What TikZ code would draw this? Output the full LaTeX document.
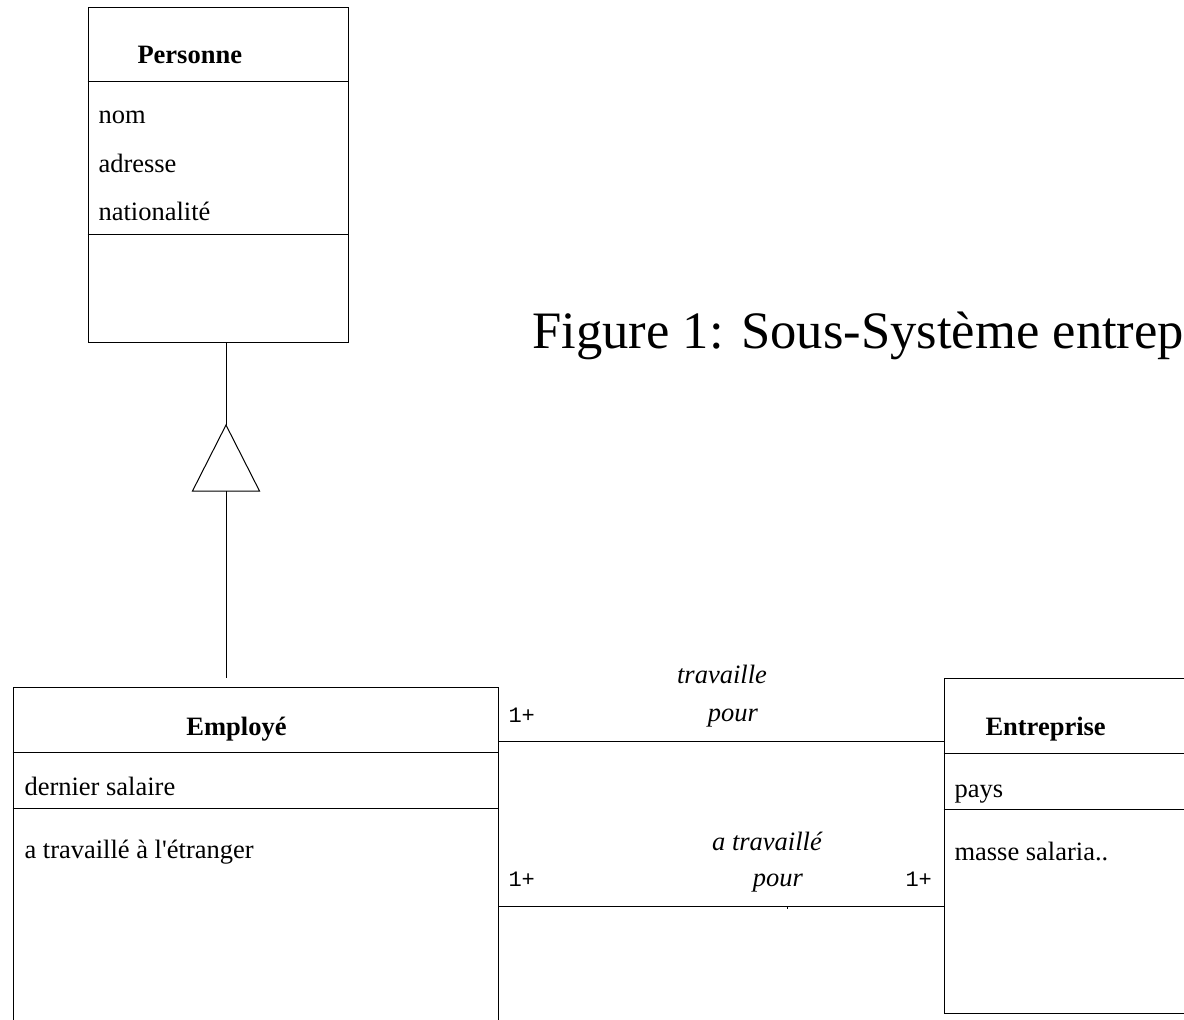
\documentclass[tikz,border=0pt]{standalone}
\usepackage{fontspec}
\setmainfont{Liberation Serif}[Ligatures=TeXOff]
\setmonofont{Liberation Mono}
\begin{document}
\begin{tikzpicture}[x=1pt,y=-1pt,
  line width=1pt,
  classbox/.style={draw, rectangle, inner sep=0pt, minimum width=#1},
  attr/.style={anchor=base west, inner sep=0pt, font=\fontsize{26.5}{30}\selectfont},
  cname/.style={anchor=base west, inner sep=0pt, font=\fontsize{26.5}{30}\selectfont\bfseries},
  role/.style={anchor=base, inner sep=0pt, font=\fontsize{26.5}{30}\selectfont\itshape},
  mult/.style={anchor=base west, inner sep=0pt, font=\fontsize{22}{24}\selectfont\ttfamily},
  title/.style={anchor=base west, inner sep=0pt, font=\fontsize{52.6}{60}\selectfont}]
\useasboundingbox (0,0) rectangle (1184,1020);
\clip (0,0) rectangle (1184,1020);

% class Personne
\node[classbox=260pt, minimum height=335pt] (pers) at (218,174.5) {};
\draw (pers.west |- 0,81) -- (pers.east |- 0,81);
\draw (pers.west |- 0,234) -- (pers.east |- 0,234);
\node[cname] (persn) at (137,63) {Personne};
\node[attr] (pa1) at (98,123) {nom};
\node[attr] (pa2) at (98,172) {adresse};
\node[attr] (pa3) at (98,220) {nationalité};

% class Employé
\node[classbox=485pt, minimum height=360pt] (emp) at (255.5,867) {};
\draw (emp.west |- 0,752) -- (emp.east |- 0,752);
\draw (emp.west |- 0,808) -- (emp.east |- 0,808);
\node[cname, anchor=base] (empn) at (236.5,735) {Employé};
\node[attr] (ea1) at (24,795) {dernier salaire};
\node[attr] (ea2) at (24,858) {a travaillé à l'étranger};

% class Entreprise
\node[classbox=300pt, minimum height=335pt] (ent) at (1094,845.5) {};
\draw (ent.west |- 0,753) -- (ent.east |- 0,753);
\draw (ent.west |- 0,809) -- (ent.east |- 0,809);
\node[cname] (entn) at (985,735) {Entreprise};
\node[attr] (na1) at (954,797) {pays};
\node[attr] (na2) at (954,860) {masse salaria..};

% generalisation Employé -> Personne
\coordinate (apex) at (226,425);
\coordinate (bl) at (192.5,491);
\coordinate (br) at (259.5,491);
\coordinate (bm) at (226,491);
\coordinate (gend) at (226,678);
\draw (apex |- pers.south) -- (apex);
\draw (apex) -- (bl) -- (br) -- cycle;
\draw (bm) -- (gend);

% associations
\coordinate (r1) at (0,741);
\coordinate (r2) at (0,906);
\draw (emp.east |- r1) -- (ent.west |- r1);
\draw (emp.east |- r2) -- (ent.west |- r2);
\coordinate (tk) at (787,906);
\draw[line width=0.6pt] (tk) -- ++(0,3);

\node[role] (l1a) at (722,683) {travaille};
\node[role] (l1b) at (733,721) {pour};
\node[role] (l2a) at (767,850) {a travaillé};
\node[role] (l2b) at (778,886) {pour};
\node[mult] (m1) at (508,722) {1+};
\node[mult] (m2) at (508,886) {1+};
\node[mult] (m3) at (905,886) {1+};

% caption
\node[title] (cap) at (532,348) {Figure 1: Sous-Système entrep};
\end{tikzpicture}
\end{document}
